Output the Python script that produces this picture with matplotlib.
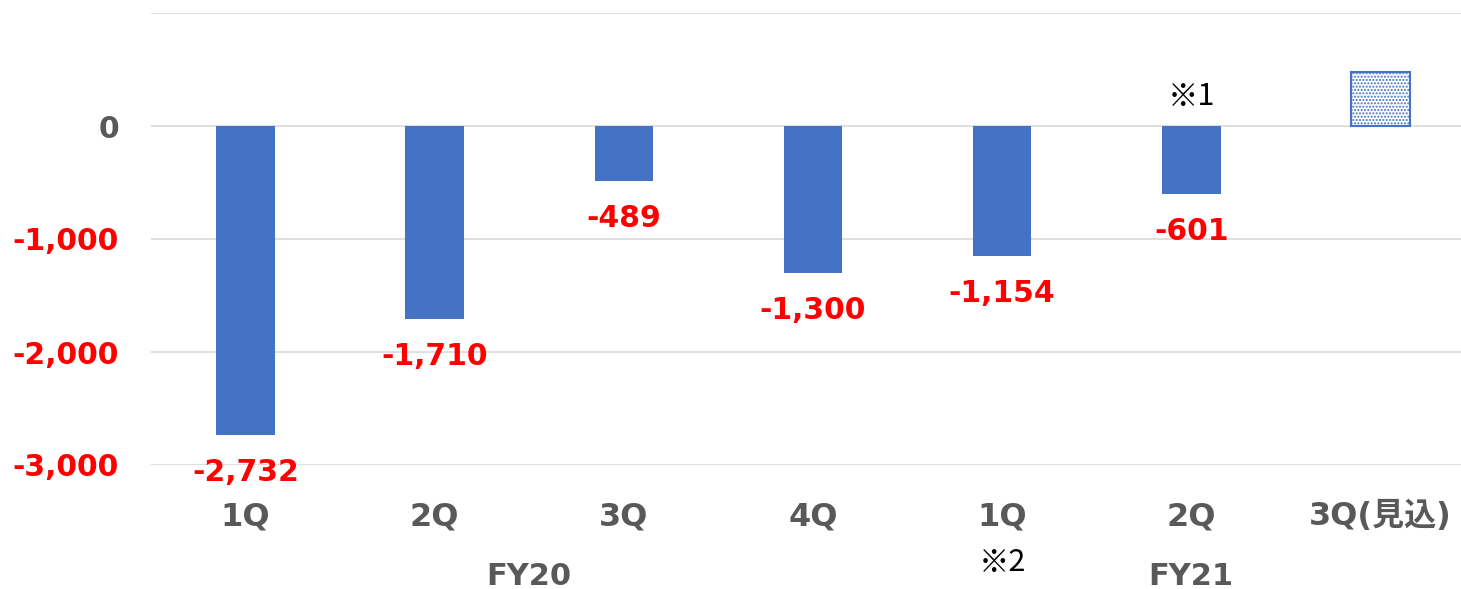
import matplotlib
matplotlib.use("Agg")
import matplotlib.pyplot as plt

plt.rcParams["font.family"] = ["DejaVu Sans", "Noto Sans CJK JP"]
plt.rcParams["hatch.linewidth"] = 1.0

quarters = ["1Q", "2Q", "3Q", "4Q", "1Q", "2Q", "3Q(見込)"]
actual = [-2732, -1710, -489, -1300, -1154, -601]
forecast = 480
fiscal_years = ["FY20", "FY21"]
fy_spans = [(0, 3), (4, 6)]
y_ticks = [-3000, -2000, -1000, 0, 1000]

blue = "#4472C4"
red = "#FF0000"
gray = "#595959"

fig = plt.figure(figsize=(14.61, 5.89), dpi=100)
# plot area runs a little past the right edge of the picture
ax = fig.add_axes([151 / 1461, 124 / 589, 1324 / 1461, 452 / 589])

x = list(range(len(quarters)))
ax.bar(x[:len(actual)], actual, width=0.31, color=blue, zorder=3)
ax.bar(x[-1], forecast, width=0.31, facecolor="white", edgecolor=blue,
       hatch=".....", linewidth=1.5, zorder=3)

for xi, v in zip(x, actual):
    ax.annotate(f"{v:,}", (xi, v), xytext=(0, -27), textcoords="offset points",
                ha="center", va="center", color=red, fontsize=21.5,
                fontweight="bold")

ax.set_xlim(-0.5, len(quarters) - 0.5)
ax.set_ylim(-3000, 1000)
ax.set_yticks(y_ticks)
ax.set_yticklabels(["-3,000", "-2,000", "-1,000", "0", ""])
for lbl, v in zip(ax.get_yticklabels(), y_ticks):
    lbl.set_color(red if v < 0 else gray)
    lbl.set_fontweight("bold")
    lbl.set_fontsize(21.5)

ax.set_xticks(x)
ax.set_xticklabels(quarters, fontsize=23, fontweight="bold", color=gray)
ax.tick_params(length=0, axis="x", pad=26)
ax.tick_params(length=0, axis="y", pad=23)

ax.grid(axis="y", color="#d9d9d9", linewidth=1.2, zorder=0)
for s in ax.spines.values():
    s.set_visible(False)

trans = ax.get_xaxis_transform()
for name, (a, b) in zip(fiscal_years, fy_spans):
    ax.text((a + b) / 2, -0.247, name, transform=trans, ha="center",
            va="center", fontsize=22, fontweight="bold", color=gray)

ax.text(4, -0.215, "※2", transform=trans, ha="center", va="center",
        fontsize=22, color="black", family="Noto Sans CJK JP")
ax.annotate("※1", (5, 0), xytext=(0, 21), textcoords="offset points",
            ha="center", va="center", fontsize=22, color="black",
            family="Noto Sans CJK JP")

fig.savefig("out.png", dpi=100)
